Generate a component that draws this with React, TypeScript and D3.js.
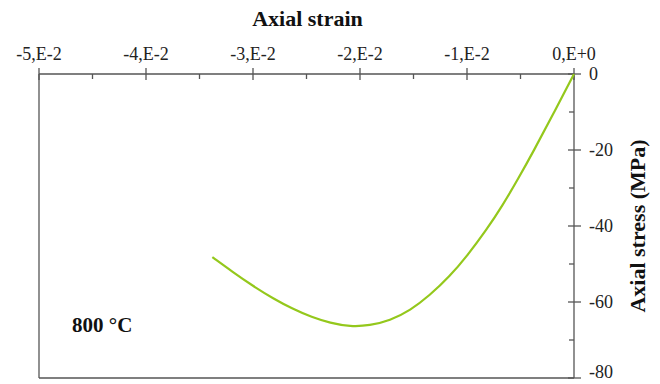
import * as d3 from "d3";
import React, { useRef, useEffect } from "react";

// strain values in units of 1E-2
const strain = [-3.38, -3.19, -3.0, -2.81, -2.63, -2.45, -2.28, -2.09, -1.91, -1.72, -1.53, -1.35, -1.16, -1.0, -0.82, -0.67, -0.52, -0.38, -0.19, 0];
const stress = [-48.2, -52.1, -55.8, -59.1, -61.8, -64.0, -65.5, -66.5, -66.2, -64.9, -62.2, -58.3, -53.2, -47.9, -41.1, -34.7, -27.5, -20.4, -10.3, 0];

const xTicks = [-5, -4, -3, -2, -1, 0];
const xTickLabels = ["-5,E-2", "-4,E-2", "-3,E-2", "-2,E-2", "-1,E-2", "0,E+0"];
const yTicks = [0, -20, -40, -60, -80];

const width = 660;
const height = 384;
const left = 39;
const right = 574;
const top = 74;
const bottom = 378;
const font = "'Liberation Serif', 'Times New Roman', serif";
const axisColor = "#555";

const App = () => {
  const ref = useRef<SVGSVGElement>(null);

  useEffect(() => {
    const svg = d3.select(ref.current);
    svg.selectAll("*").remove();

    const x = d3.scaleLinear().domain([-5, 0]).range([left, right]);
    const y = d3.scaleLinear().domain([0, -80]).range([top, bottom]);

    // frame: left and bottom
    svg.append("line").attr("x1", left).attr("x2", left).attr("y1", top).attr("y2", bottom)
      .attr("stroke", axisColor).attr("stroke-width", 1.3);
    svg.append("line").attr("x1", left).attr("x2", right).attr("y1", bottom).attr("y2", bottom)
      .attr("stroke", axisColor).attr("stroke-width", 1.3);

    // top x axis
    const xAxis = svg.append("g").attr("transform", `translate(0,${top})`);
    xAxis.append("line").attr("x1", left).attr("x2", right).attr("stroke", axisColor).attr("stroke-width", 1.3);
    xTicks.forEach((t) => {
      xAxis.append("line").attr("x1", x(t)).attr("x2", x(t)).attr("y1", -6).attr("y2", 6)
        .attr("stroke", axisColor).attr("stroke-width", 1.3);
    });
    d3.range(-4.5, 0, 1).forEach((t) => {
      xAxis.append("line").attr("x1", x(t)).attr("x2", x(t)).attr("y1", 0).attr("y2", 5)
        .attr("stroke", axisColor).attr("stroke-width", 1.3);
    });
    xAxis.selectAll("text.tick").data(xTicks).join("text")
      .attr("x", (d) => x(d)).attr("y", -14)
      .attr("text-anchor", "middle")
      .attr("font-family", font).attr("font-size", 18).attr("fill", "#222")
      .text((_, i) => xTickLabels[i]);

    // right y axis
    const yAxis = svg.append("g").attr("transform", `translate(${right},0)`);
    yAxis.append("line").attr("y1", top).attr("y2", bottom).attr("stroke", axisColor).attr("stroke-width", 1.3);
    yTicks.forEach((t) => {
      yAxis.append("line").attr("x1", -6).attr("x2", 7).attr("y1", y(t)).attr("y2", y(t))
        .attr("stroke", axisColor).attr("stroke-width", 1.3);
    });
    d3.range(-10, -80, -20).forEach((t) => {
      yAxis.append("line").attr("x1", -5).attr("x2", 0).attr("y1", y(t)).attr("y2", y(t))
        .attr("stroke", axisColor).attr("stroke-width", 1.3);
    });
    yAxis.selectAll("text.tick").data(yTicks).join("text")
      .attr("x", 15).attr("y", (d) => y(d)).attr("dy", (d) => (d === -80 ? "0em" : "0.35em"))
      .attr("font-family", font).attr("font-size", 18).attr("fill", "#222")
      .text((d) => `${d}`);

    // titles
    svg.append("text").attr("x", (left + right) / 2 + 1).attr("y", 26)
      .attr("text-anchor", "middle").attr("font-family", font).attr("font-weight", "bold")
      .attr("font-size", 22).attr("fill", "#111").text("Axial strain");
    svg.append("text")
      .attr("transform", `translate(645,${(top + bottom) / 2}) rotate(-90)`)
      .attr("text-anchor", "middle").attr("font-family", font).attr("font-weight", "bold")
      .attr("font-size", 22).attr("fill", "#111").text("Axial stress (MPa)");
    svg.append("text").attr("x", 72).attr("y", 332)
      .attr("font-family", font).attr("font-weight", "bold")
      .attr("font-size", 21).attr("fill", "#111").text("800 °C");

    // curve
    const pts = strain.map((s, i) => [s, stress[i]] as [number, number]);
    const line = d3.line<[number, number]>()
      .x((d) => x(d[0])).y((d) => y(d[1]))
      .curve(d3.curveBasis);
    svg.append("path").datum(pts).attr("d", line)
      .attr("fill", "none").attr("stroke", "#94C81C").attr("stroke-width", 2.2);
  }, []);

  return (
    <svg ref={ref} width={width} height={height}
      style={{ position: "absolute", left: 0, top: 0, background: "#fff" }} />
  );
};

export default App;
